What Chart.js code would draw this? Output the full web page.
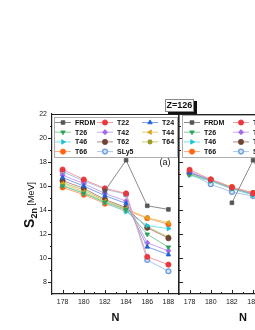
<!DOCTYPE html>
<html>
<head>
<meta charset="utf-8">
<script src="https://cdn.jsdelivr.net/npm/chart.js@4.4.1/dist/chart.umd.min.js"></script>
<style>
  html, body { margin: 0; padding: 0; background: #fff; overflow: hidden; }
  body { width: 255px; height: 330px; position: relative; }
  canvas { position: absolute; top: 0; }
  #left { left: 0; }
  #right { left: 127px; }
  #zlabel {
    position: absolute; left: 165px; top: 99px; width: 27px; height: 11px;
    border: 1px solid #888; background: #fff; color: #111;
    font: bold 9px "Liberation Sans", Arial, sans-serif; line-height: 11px;
    text-align: center; box-shadow: 3px 2px 0 #111; z-index: 5;
  }
</style>
</head>
<body>
<canvas id="left" width="200" height="330"></canvas>
<canvas id="right" width="200" height="330"></canvas>
<div id="zlabel">Z=126</div>
<script>
// neutron numbers and axis ticks
const nValues = [178, 180, 182, 184, 186, 188];
const xTicks = [178, 180, 182, 184, 186, 188];
const yTicks = [8, 10, 12, 14, 16, 18, 20, 22];
const seriesNames = ['FRDM', 'T22', 'T24', 'T26', 'T42', 'T44', 'T46', 'T62', 'T64', 'T66', 'SLy5'];

// panel (a) - S2n in MeV
const frdmA = [null, null, 15.6, 18.15, 14.35, 14.05];
const t22A  = [17.37, 16.54, 15.8, 15.38, 10.1, 9.45];
const t24A  = [16.7, 16.0, 15.2, 14.55, 10.93, 10.28];
const t26A  = [16.0, 15.4, 14.65, 14.05, 11.98, 10.9];
const t42A  = [16.9, 16.2, 15.38, 14.75, 11.26, 10.6];
const t44A  = [16.2, 15.5, 14.72, 14.1, 13.35, 12.95];
const t46A  = [16.05, 15.4, 14.6, 13.85, 12.7, 12.45];
const t62A  = [16.45, 15.8, 14.88, 14.2, 12.52, 11.65];
const t64A  = [16.3, 15.65, 14.78, 14.12, 12.6, 11.75];
const t66A  = [15.88, 15.28, 14.53, 13.97, 13.32, 12.8];
const sly5A = [17.2, 16.42, 15.75, 15.3, 9.83, 8.9];

// panel (b) - only the left part is visible
const frdmB = [null, null, 14.6, 18.15, 14.8, 14.5];
const t22B  = [17.35, 16.55, 15.88, 15.4, 14.9, 14.5];
const t24B  = [17.1, 16.5, 15.85, 15.35, 14.85, 14.45];
const t26B  = [16.95, 16.45, 15.82, 15.3, 14.8, 14.4];
const t42B  = [17.2, 16.5, 15.85, 15.38, 14.88, 14.5];
const t44B  = [17.0, 16.52, 15.9, 15.42, 14.9, 14.5];
const t46B  = [16.9, 16.4, 15.75, 15.25, 14.75, 14.35];
const t62B  = [17.15, 16.5, 15.85, 15.38, 14.88, 14.48];
const t64B  = [17.1, 16.5, 15.86, 15.4, 14.9, 14.5];
const t66B  = [17.0, 16.54, 15.92, 15.42, 14.92, 14.52];
const sly5B = [17.05, 16.14, 15.5, 15.16, 14.7, 14.3];

const markColors = ['#555555', '#e8383d', '#1f5fd6', '#2ea05a', '#a56be6', '#d9a51c', '#19c3d6', '#6e4434', '#9a9a22', '#ff6414', '#6d9ddc'];
const lineColors = ['#8a8a8a', '#f49a9c', '#7aa2ec', '#7fcf9c', '#c6a5f2', '#ebcb7a', '#80dfe9', '#b08f84', '#cbcb7c', '#ffa877', '#a9c5ec'];
const markStyles = ['rect', 'circle', 'triangle', 'triangle', 'rectRot', 'triangle', 'triangle', 'circle', 'star', 'circle', 'circle'];
const markRot = [0, 0, 0, 180, 0, -90, 90, 0, 0, 0, 0];

const FONT = '"Liberation Sans", Arial, sans-serif';

function makeDatasets(values) {
  return seriesNames.map((name, i) => ({
    label: name,
    data: nValues.map((n, k) => ({ x: n, y: values[i][k] })),
    showLine: true,
    borderColor: lineColors[i],
    borderWidth: 1,
    pointStyle: markStyles[i],
    rotation: markRot[i],
    pointRadius: i == 10 ? 2.4 : 2.6,
    pointBackgroundColor: i == 10 ? '#d6e4f7' : markColors[i],
    pointBorderColor: markColors[i],
    pointBorderWidth: i == 10 ? 1.3 : (i == 8 ? 1.3 : 0.8),
    spanGaps: false
  }));
}

function line(ctx, x1, y1, x2, y2) {
  ctx.beginPath(); ctx.moveTo(x1, y1); ctx.lineTo(x2, y2); ctx.stroke();
}

// frame, minor ticks, legend and titles
const panelDeco = {
  id: 'panelDeco',
  afterDraw(chart, args, o) {
    const ctx = chart.ctx, xs = chart.scales.x, ys = chart.scales.y, a = chart.chartArea;
    const off = o.offsetX;
    ctx.save();
    ctx.strokeStyle = '#222';
    ctx.lineWidth = 1;
    line(ctx, a.left, a.top + 0.5, a.right, a.top + 0.5);
    for (let v = xs.min + 1; v < xs.max; v++) {
      const px = Math.round(xs.getPixelForValue(v)) + 0.5;
      line(ctx, px, a.bottom, px, a.bottom - (v % 2 === 0 ? 4 : 2));
    }
    for (let v = Math.ceil(ys.min) + 1; v < ys.max; v++) {
      const py = Math.round(ys.getPixelForValue(v)) + 0.5;
      line(ctx, a.left, py, a.left + o.yTickDir * (v % 2 === 0 ? 4 : 2), py);
    }

    // legend
    const lg = o.legend;
    ctx.fillStyle = '#fff';
    ctx.strokeStyle = '#999';
    ctx.lineWidth = 0.8;
    ctx.fillRect(lg.x - off, lg.y, lg.w, lg.h);
    ctx.strokeRect(lg.x - off + 0.5, lg.y + 0.5, lg.w, lg.h);
    chart.data.datasets.forEach((ds, i) => {
      const mx = lg.cols[i % 3] - off, my = lg.rows[Math.floor(i / 3)];
      ctx.strokeStyle = ds.borderColor;
      ctx.lineWidth = 1;
      line(ctx, mx - 8, my, mx + 8, my);
      ctx.fillStyle = ds.pointBackgroundColor;
      ctx.strokeStyle = ds.pointBorderColor;
      ctx.lineWidth = ds.pointBorderWidth;
      Chart.helpers.drawPoint(ctx, { pointStyle: ds.pointStyle, rotation: ds.rotation, radius: ds.pointRadius, borderWidth: ds.pointBorderWidth }, mx, my);
      ctx.fillStyle = '#111';
      ctx.font = 'bold 7px ' + FONT;
      ctx.textAlign = 'left';
      ctx.textBaseline = 'middle';
      ctx.fillText(ds.label, mx + 12, my + 0.5);
    });

    // axis titles
    ctx.fillStyle = '#111';
    ctx.textAlign = 'center';
    ctx.textBaseline = 'middle';
    ctx.font = 'bold 11px ' + FONT;
    ctx.fillText('N', o.nTitleX - off, 318);
    if (o.yTitle) {
      ctx.translate(29, 205);
      ctx.rotate(-Math.PI / 2);
      const parts = [['S', 'bold 14px ', 0], ['2n', 'bold 9px ', 3], [' [MeV]', '9px ', 0]];
      let total = 0;
      parts.forEach(p => { ctx.font = p[1] + FONT; total += ctx.measureText(p[0]).width; });
      let x = -total / 2;
      ctx.textAlign = 'left';
      ctx.textBaseline = 'alphabetic';
      parts.forEach(p => {
        ctx.font = p[1] + FONT;
        ctx.fillText(p[0], x, 4.5 + p[2]);
        x += ctx.measureText(p[0]).width;
      });
      ctx.setTransform(1, 0, 0, 1, 0, 0);
    }
    if (o.tag) {
      ctx.font = '9px ' + FONT;
      ctx.textAlign = 'center';
      ctx.fillText(o.tag, 165, 165);
    }
    ctx.restore();
  }
};

function makeChart(id, values, deco, showYLabels, borderW) {
  return new Chart(document.getElementById(id), {
    type: 'scatter',
    data: { datasets: makeDatasets(values) },
    plugins: [panelDeco],
    options: {
      responsive: false,
      animation: false,
      layout: { padding: { left: 0, top: 114, right: 21, bottom: 0 } },
      plugins: { legend: { display: false }, tooltip: { enabled: false }, panelDeco: deco },
      scales: {
        x: {
          type: 'linear', min: 177, max: 189,
          afterBuildTicks: s => { s.ticks = xTicks.map(v => ({ value: v })); },
          afterFit: s => { s.height = 36; },
          grid: { display: false, drawTicks: false },
          border: { display: true, color: '#222', width: 1.2 },
          ticks: { padding: 4, color: '#222', font: { size: 7, family: FONT } }
        },
        y: {
          type: 'linear', min: 7, max: 22,
          afterBuildTicks: s => { s.ticks = yTicks.map(v => ({ value: v })); },
          afterFit: s => { s.width = 52; },
          grid: { display: false, drawTicks: false },
          border: { display: true, color: '#222', width: borderW },
          ticks: { display: showYLabels, padding: 5, color: '#222', font: { size: 7, family: FONT } }
        }
      }
    }
  });
}

const valuesA = [frdmA, t22A, t24A, t26A, t42A, t44A, t46A, t62A, t64A, t66A, sly5A];
const valuesB = [frdmB, t22B, t24B, t26B, t42B, t44B, t46B, t62B, t64B, t66B, sly5B];

makeChart('left', valuesA, {
  offsetX: 0, yTickDir: -1, nTitleX: 115.5, yTitle: true, tag: '(a)',
  legend: { x: 54, y: 117, w: 123, h: 40, cols: [63, 105, 150], rows: [122.5, 132.2, 141.9, 151.6] }
}, true, 1.2);

makeChart('right', valuesB, {
  offsetX: 127, yTickDir: 1, nTitleX: 243, yTitle: false, tag: null,
  legend: { x: 182, y: 115, w: 140, h: 42, cols: [192, 241, 290], rows: [122.5, 132.2, 141.9, 151.6] }
}, false, 1.6);
</script>
</body>
</html>
